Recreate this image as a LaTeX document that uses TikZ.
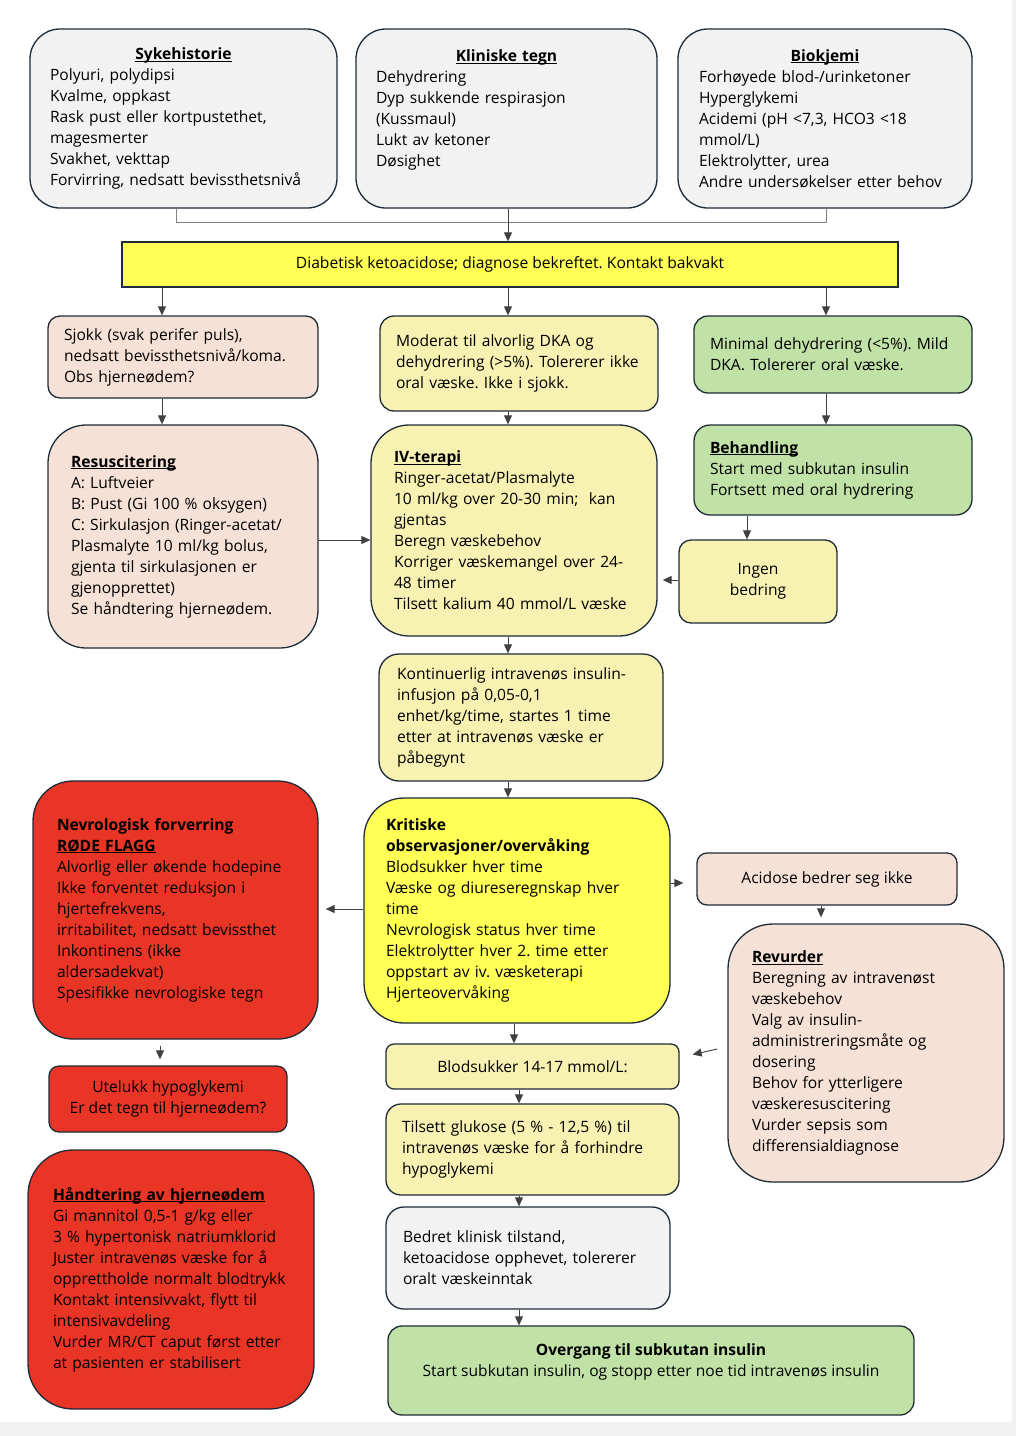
\documentclass[tikz,border=0pt]{standalone}
\usepackage{fontspec}
\setmainfont{Open Sans}
\frenchspacing
\usetikzlibrary{arrows.meta}
\definecolor{edge}{HTML}{1E2B38}
\definecolor{greyfill}{HTML}{F2F2F2}
\definecolor{peach}{HTML}{F5E1D6}
\definecolor{paleyellow}{HTML}{F7F2B2}
\definecolor{brightyellow}{HTML}{FFFF55}
\definecolor{lightgreen}{HTML}{C1E2A6}
\definecolor{alarmred}{HTML}{E83526}
\newsavebox{\titlebox}
\newcommand{\boxtitle}[1]{\leavevmode\sbox{\titlebox}{\textbf{#1}}\rlap{\rule[-2.2pt]{\wd\titlebox}{0.9pt}}\usebox{\titlebox}}
\tikzset{
	box/.style={draw=edge, line width=1.3pt, font=\fontsize{15.6}{21}\selectfont, inner ysep=0pt},
	tbox/.style={box, align=left},
	cbox/.style={box, align=center},
	link/.style={draw=black!75, line width=0.9pt},
	arrow/.style={link, -{Triangle[length=9pt,width=8pt]}},
}
\begin{document}
\begin{tikzpicture}[x=1pt,y=-1pt]
		\useasboundingbox (0,0) rectangle (1016,1436);
		\fill[black!5] (0,1422) rectangle (1016,1436);
		\fill[black!5] (1012,0) rectangle (1016,1436);
		% top row
		\node[tbox, fill=greyfill, rounded corners=30pt, minimum width=307pt, minimum height=179pt, text width=267pt, inner xsep=20pt] (syk) at (183.5,118.5) {\makebox[\linewidth]{\boxtitle{Sykehistorie}}\\ Polyuri, polydipsi\\ Kvalme, oppkast\\ Rask pust eller kortpustethet,\\ magesmerter\\ Svakhet, vekttap\\ Forvirring, nedsatt bevissthetsnivå};
		\node[tbox, fill=greyfill, rounded corners=30pt, minimum width=301pt, minimum height=179pt, text width=261pt, inner xsep=20pt] (kli) at (506.5,118.5) {\makebox[\linewidth]{\boxtitle{Kliniske tegn}}\\ Dehydrering\\ Dyp sukkende respirasjon\\ (Kussmaul)\\ Lukt av ketoner\\ Døsighet\\ \mbox{}};
		\node[tbox, fill=greyfill, rounded corners=30pt, minimum width=294pt, minimum height=179pt, text width=252pt, inner xsep=21pt] (bio) at (825,118.5) {\makebox[\linewidth]{\boxtitle{Biokjemi}}\\ Forhøyede blod-/urinketoner\\ Hyperglykemi\\ Acidemi (pH <7,3, HCO3 <18\\ mmol/L)\\ Elektrolytter, urea\\ Andre undersøkelser etter behov};
		\node[cbox, fill=brightyellow, minimum width=776pt, minimum height=45pt] (diag) at (510,264.5) {Diabetisk ketoacidose; diagnose bekreftet. Kontakt bakvakt};
		\draw[link, draw=black!50] (syk.south -| 176,0) -- (176,222) -- (826,222) -- (bio.south -| 826,0);
		\draw[arrow] (kli.south -| 508,0) -- (diag.north -| 508,0);
		% three branches
		\node[tbox, fill=peach, rounded corners=12pt, minimum width=270pt, minimum height=82pt, text width=238pt, inner xsep=16pt] (sjokk) at (183,357) {Sjokk (svak perifer puls),\\ nedsatt bevissthetsnivå/koma.\\ Obs hjerneødem?};
		\node[tbox, fill=paleyellow, rounded corners=14pt, minimum width=278pt, minimum height=95pt, text width=246pt, inner xsep=16pt] (moderat) at (519,363.5) {Moderat til alvorlig DKA og\\ dehydrering (>5\%). Tolererer ikke\\ oral væske. Ikke i sjokk.};
		\node[tbox, fill=lightgreen, rounded corners=14pt, minimum width=278pt, minimum height=77pt, text width=246pt, inner xsep=16pt] (minimal) at (833,354.5) {Minimal dehydrering (<5\%). Mild\\ DKA. Tolererer oral væske.};
		\draw[arrow] (diag.south -| 162,0) -- (sjokk.north -| 162,0);
		\draw[arrow] (diag.south -| 508,0) -- (moderat.north -| 508,0);
		\draw[arrow] (diag.south -| 826,0) -- (minimal.north -| 826,0);
		\node[tbox, fill=peach, rounded corners=38pt, minimum width=270pt, minimum height=223pt, text width=224pt, inner xsep=23pt] (resus) at (183,536.5) {\boxtitle{Resuscitering}\\ A: Luftveier\\ B: Pust (Gi 100 \% oksygen)\\ C: Sirkulasjon (Ringer-acetat/\\ Plasmalyte 10 ml/kg bolus,\\ gjenta til sirkulasjonen er\\ gjenopprettet)\\ Se håndtering hjerneødem.};
		\node[tbox, fill=paleyellow, rounded corners=38pt, minimum width=286pt, minimum height=211pt, text width=240pt, inner xsep=23pt] (iv) at (514,530.5) {\boxtitle{IV-terapi}\\ Ringer-acetat/Plasmalyte\\ 10 ml/kg over 20-30 min;\ \ kan\\ gjentas\\ Beregn væskebehov\\ Korriger væskemangel over 24-\\ 48 timer\\ Tilsett kalium 40 mmol/L væske};
		\node[tbox, fill=lightgreen, rounded corners=16pt, minimum width=278pt, minimum height=90pt, text width=246pt, inner xsep=16pt] (behand) at (833,470) {\boxtitle{Behandling}\\ Start med subkutan insulin\\ Fortsett med oral hydrering};
		\node[cbox, fill=paleyellow, rounded corners=12pt, minimum width=158pt, minimum height=83pt] (ingen) at (758,581.5) {Ingen\\ bedring};
		\draw[arrow] (sjokk.south -| 162,0) -- (resus.north -| 162,0);
		\draw[arrow] (moderat.south -| 508,0) -- (iv.north -| 508,0);
		\draw[arrow] (minimal.south -| 826,0) -- (behand.north -| 826,0);
		\draw[arrow] (resus.east |- 0,540) -- (iv.west |- 0,540);
		\draw[arrow] (behand.south -| 747,0) -- (ingen.north -| 747,0);
		\draw[arrow, shorten >=5pt] (ingen.west |- 0,580) -- (iv.east |- 0,580);
		% insulin and monitoring
		\node[tbox, fill=paleyellow, rounded corners=20pt, minimum width=284pt, minimum height=127pt, text width=248pt, inner xsep=18pt] (kont) at (521,717.5) {Kontinuerlig intravenøs insulin-\\ infusjon på 0,05-0,1\\ enhet/kg/time, startes 1 time\\ etter at intravenøs væske er\\ påbegynt};
		\node[tbox, fill=brightyellow, rounded corners=40pt, minimum width=306pt, minimum height=225pt, text width=262pt, inner xsep=22pt] (krit) at (517,910.5) {\textbf{Kritiske}\\ \textbf{observasjoner/overvåking}\\ Blodsukker hver time\\ Væske og diureseregnskap hver\\ time\\ Nevrologisk status hver time\\ Elektrolytter hver 2. time etter\\ oppstart av iv. væsketerapi\\ Hjerteovervåking};
		\node[tbox, fill=alarmred, rounded corners=40pt, minimum width=285pt, minimum height=258pt, text width=237pt, inner xsep=24pt] (nevro) at (175.5,910) {\textbf{Nevrologisk forverring}\\ \boxtitle{RØDE FLAGG}\\ Alvorlig eller økende hodepine\\ Ikke forventet reduksjon i\\ hjertefrekvens,\\ irritabilitet, nedsatt bevissthet\\ Inkontinens (ikke\\ aldersadekvat)\\ Spesifikke nevrologiske tegn};
		\node[cbox, fill=peach, rounded corners=10pt, minimum width=260pt, minimum height=52pt] (acid) at (827,879) {Acidose bedrer seg ikke};
		\node[tbox, fill=peach, rounded corners=45pt, minimum width=276pt, minimum height=258pt, text width=228pt, inner xsep=24pt] (revurd) at (866,1053) {\boxtitle{Revurder}\\ Beregning av intravenøst\\ væskebehov\\ Valg av insulin-\\ administreringsmåte og\\ dosering\\ Behov for ytterligere\\ væskeresuscitering\\ Vurder sepsis som\\ differensialdiagnose};
		\draw[arrow] (iv.south -| 508,0) -- (kont.north -| 508,0);
		\draw[arrow] (kont.south -| 508,0) -- (krit.north -| 508,0);
		\draw[arrow, shorten >=7pt] (krit.west |- 0,909) -- (nevro.east |- 0,909);
		\draw[arrow, shorten >=13pt] (krit.east |- 0,883) -- (acid.west |- 0,883);
		\draw[arrow, shorten >=6pt] (acid.south -| 821,0) -- (revurd.north -| 821,0);
		% glucose and recovery
		\node[cbox, fill=paleyellow, rounded corners=8pt, minimum width=293pt, minimum height=45pt] (blod) at (532.5,1066.5) {Blodsukker 14-17 mmol/L:};
		\node[tbox, fill=paleyellow, rounded corners=15pt, minimum width=293pt, minimum height=91pt, text width=261pt, inner xsep=16pt] (glukose) at (532.5,1149.5) {Tilsett glukose (5 \% - 12,5 \%) til\\ intravenøs væske for å forhindre\\ hypoglykemi};
		\node[tbox, fill=greyfill, rounded corners=18pt, minimum width=284pt, minimum height=102pt, text width=250pt, inner xsep=17pt] (bedret) at (528,1258) {Bedret klinisk tilstand,\\ ketoacidose opphevet, tolererer\\ oralt væskeinntak};
		\node[cbox, fill=lightgreen, rounded corners=14pt, minimum width=526pt, minimum height=89pt] (overg) at (651,1370.5) {\textbf{Overgang til subkutan insulin}\\ Start subkutan insulin, og stopp etter noe tid intravenøs insulin\\ \mbox{}};
		\draw[arrow] (krit.south -| 514,0) -- (blod.north -| 514,0);
		\draw[arrow] ([shift={(-10,-4)}]revurd.west) -- ([shift={(13,-12)}]blod.east);
		\draw[arrow] (blod.south -| 519,0) -- (glukose.north -| 519,0);
		\draw[arrow] (glukose.south -| 519,0) -- (bedret.north -| 519,0);
		\draw[arrow] (bedret.south -| 519,0) -- (overg.north -| 519,0);
		% cerebral oedema
		\node[cbox, fill=alarmred, rounded corners=10pt, minimum width=238pt, minimum height=66pt] (utel) at (168,1099) {Utelukk hypoglykemi\\ Er det tegn til hjerneødem?};
		\node[tbox, fill=alarmred, rounded corners=45pt, minimum width=286pt, minimum height=259pt, text width=236pt, inner xsep=25pt] (hand) at (171,1279.5) {\boxtitle{Håndtering av hjerneødem}\\ Gi mannitol 0,5-1 g/kg eller\\ 3 \% hypertonisk natriumklorid\\ Juster intravenøs væske for å\\ opprettholde normalt blodtrykk\\ Kontakt intensivvakt, flytt til\\ intensivavdeling\\ Vurder MR/CT caput først etter\\ at pasienten er stabilisert};
		\draw[arrow, shorten <=6pt, shorten >=6pt] (nevro.south -| 160,0) -- (utel.north -| 160,0);
\end{tikzpicture}
\end{document}
